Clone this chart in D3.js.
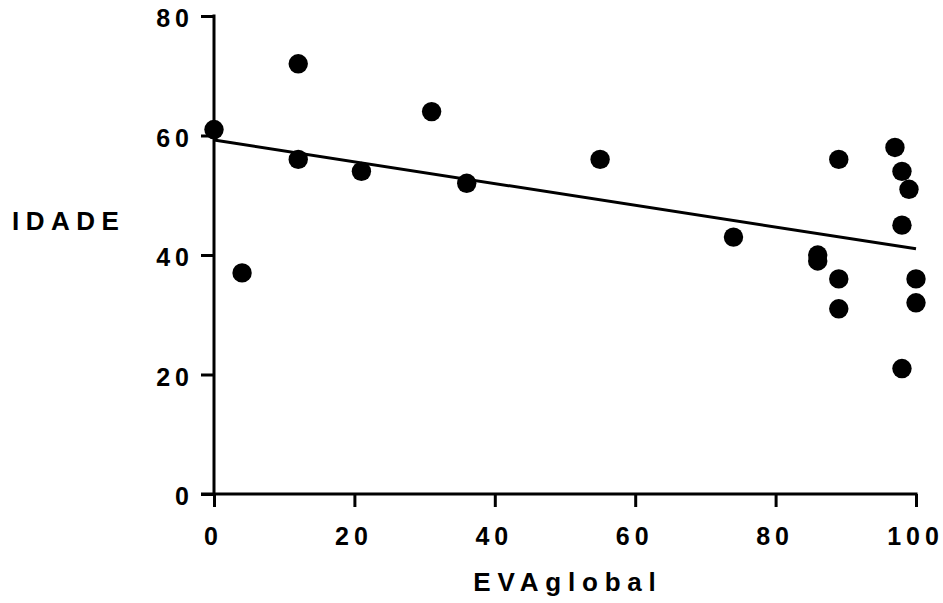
<!DOCTYPE html>
<html>
<head>
<meta charset="utf-8">
<script src="https://cdn.jsdelivr.net/npm/d3@7.9.0/dist/d3.min.js"></script>
<style>
  body { margin: 0; background: #fff; }
  svg text { font-family: "Liberation Sans", Arial, sans-serif; font-weight: bold; fill: #000; }
</style>
</head>
<body>
<svg id="chart" width="943" height="603"></svg>
<script>
// EVAglobal vs IDADE
const evaGlobal = [0, 4, 12, 12, 21, 31, 36, 55, 74, 86, 86, 89, 89, 89, 97, 98, 99, 98, 100, 100, 98];
const idade     = [61, 37, 72, 56, 54, 64, 52, 56, 43, 40, 39, 56, 36, 31, 58, 54, 51, 45, 36, 32, 21];
const xTicks = [0, 20, 40, 60, 80, 100];
const yTicks = [0, 20, 40, 60, 80];

const svg = d3.select('#chart');

const x = d3.scaleLinear().domain([0, 100]).range([214, 916]);
const y = d3.scaleLinear().domain([0, 80]).range([494, 16]);

// least squares fit for the trend line
const mx = d3.mean(evaGlobal), my = d3.mean(idade);
const sxy = d3.sum(evaGlobal, (v, i) => (v - mx) * (idade[i] - my));
const sxx = d3.sum(evaGlobal, v => (v - mx) ** 2);
const slope = sxy / sxx;
const intercept = my - slope * mx;
const fit = [0, 100].map(v => [v, intercept + slope * v]);

// axes
const xAxis = svg.append('g')
  .attr('transform', 'translate(0,494)')
  .call(d3.axisBottom(x).tickValues(xTicks).tickSize(13).tickPadding(20).tickSizeOuter(0));
const yAxis = svg.append('g')
  .attr('transform', 'translate(214,0)')
  .call(d3.axisLeft(y).tickValues(yTicks).tickSize(13).tickPadding(7).tickSizeOuter(0));

[xAxis, yAxis].forEach(g => {
  g.select('.domain').attr('stroke', '#000').attr('stroke-width', 3);
  g.selectAll('.tick line').attr('stroke', '#000').attr('stroke-width', 3);
  g.selectAll('.tick text')
    .attr('font-size', 25)
    .style('letter-spacing', '5px')
    .attr('fill', '#000');
});
// x axis starts where the left tick of 0 begins
xAxis.select('.domain').attr('d', `M${214 - 13},0H${x(100) + 1.5}`);
yAxis.select('.domain').attr('d', `M0,${y(0)}V${y(80) - 1.5}`);
yAxis.selectAll('.tick text').attr('dy', '0.42em');
xAxis.selectAll('.tick text').attr('dx', -1);

// regression line
svg.append('path')
  .datum(fit)
  .attr('fill', 'none')
  .attr('stroke', '#000')
  .attr('stroke-width', 3)
  .attr('d', d3.line().x(d => x(d[0])).y(d => y(d[1])));

// points
svg.append('g')
  .selectAll('circle')
  .data(evaGlobal.map((v, i) => [v, idade[i]]))
  .join('circle')
  .attr('cx', d => x(d[0]))
  .attr('cy', d => y(d[1]))
  .attr('r', 9.7)
  .attr('fill', '#000');

// axis titles
svg.append('text')
  .attr('x', 12)
  .attr('y', 230)
  .attr('font-size', 26)
  .style('letter-spacing', '6.5px')
  .text('IDADE');

svg.append('text')
  .attr('x', 568)
  .attr('y', 591)
  .attr('text-anchor', 'middle')
  .attr('font-size', 26)
  .style('letter-spacing', '6.8px')
  .text('EVAglobal');
</script>
</body>
</html>
